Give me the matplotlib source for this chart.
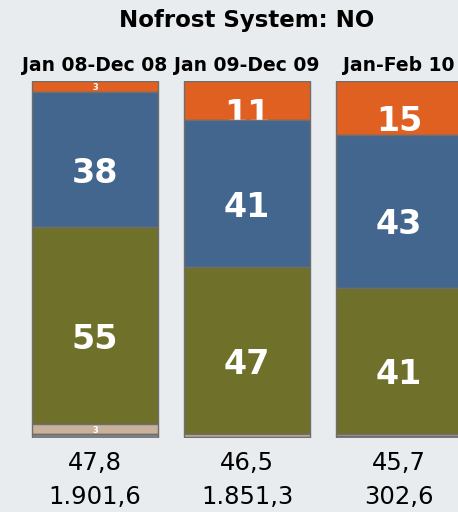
import numpy as np
import matplotlib
matplotlib.use('Agg')
import matplotlib.pyplot as plt

periods = ['Jan 08-Dec 08', 'Jan 09-Dec 09', 'Jan-Feb 10']
# stacked shares, bottom -> top
gray = [1, 0.4, 0.5]
tan = [3, 0.6, 0.5]
olive = [55, 47, 41]
blue = [38, 41, 43]
orange = [3, 11, 15]
row1 = ['47,8', '46,5', '45,7']
row2 = ['1.901,6', '1.851,3', '302,6']

series = [gray, tan, olive, blue, orange]
colors = ['#7f8184', '#c9b19b', '#6f7029', '#43668f', '#e06022']
bg = '#e9ecee'

fig = plt.figure(figsize=(4.58, 5.12), dpi=100, facecolor=bg)
ax = fig.add_axes([0, (512 - 438) / 512, 1, 357 / 512])
ax.set_facecolor(bg)
ax.set_xlim(-95 / 152, (458 - 95) / 152)
ax.set_ylim(0, 100)
ax.axis('off')

x = np.arange(len(periods))
bottom = np.zeros(len(periods))
for i, vals in enumerate(series):
    vals = np.array(vals, dtype=float)
    z = 2 + 2 * (len(series) - 1 - i)
    ax.bar(x, vals, 0.83, bottom=bottom, color=colors[i],
           edgecolor='#6e6e6e', linewidth=1, zorder=z)
    for j in range(len(x)):
        v = vals[j]
        if v >= 2:
            fs = 24 if v >= 5 else 6
            ax.text(x[j], bottom[j] + v / 2 + 0.8, '%d' % round(v), color='white',
                    fontsize=fs, fontweight='bold', ha='center', va='top',
                    zorder=z + 1)
    bottom += vals

for j in range(len(x)):
    ax.annotate(periods[j], xy=(x[j], 100), xytext=(0, 11.5),
                textcoords='offset points', ha='center', va='center',
                fontsize=13.5, fontweight='bold', annotation_clip=False)
    ax.annotate(row1[j], xy=(x[j], 0), xytext=(0, -18),
                textcoords='offset points', ha='center', va='center',
                fontsize=17.5, annotation_clip=False)
    ax.annotate(row2[j], xy=(x[j], 0), xytext=(0, -42.5),
                textcoords='offset points', ha='center', va='center',
                fontsize=17.5, annotation_clip=False)

fig.text(247 / 458, 1 - 20 / 512, 'Nofrost System: NO', ha='center',
         va='center', fontsize=16.5, fontweight='bold')

fig.savefig('out.png', dpi=100, facecolor=bg)
